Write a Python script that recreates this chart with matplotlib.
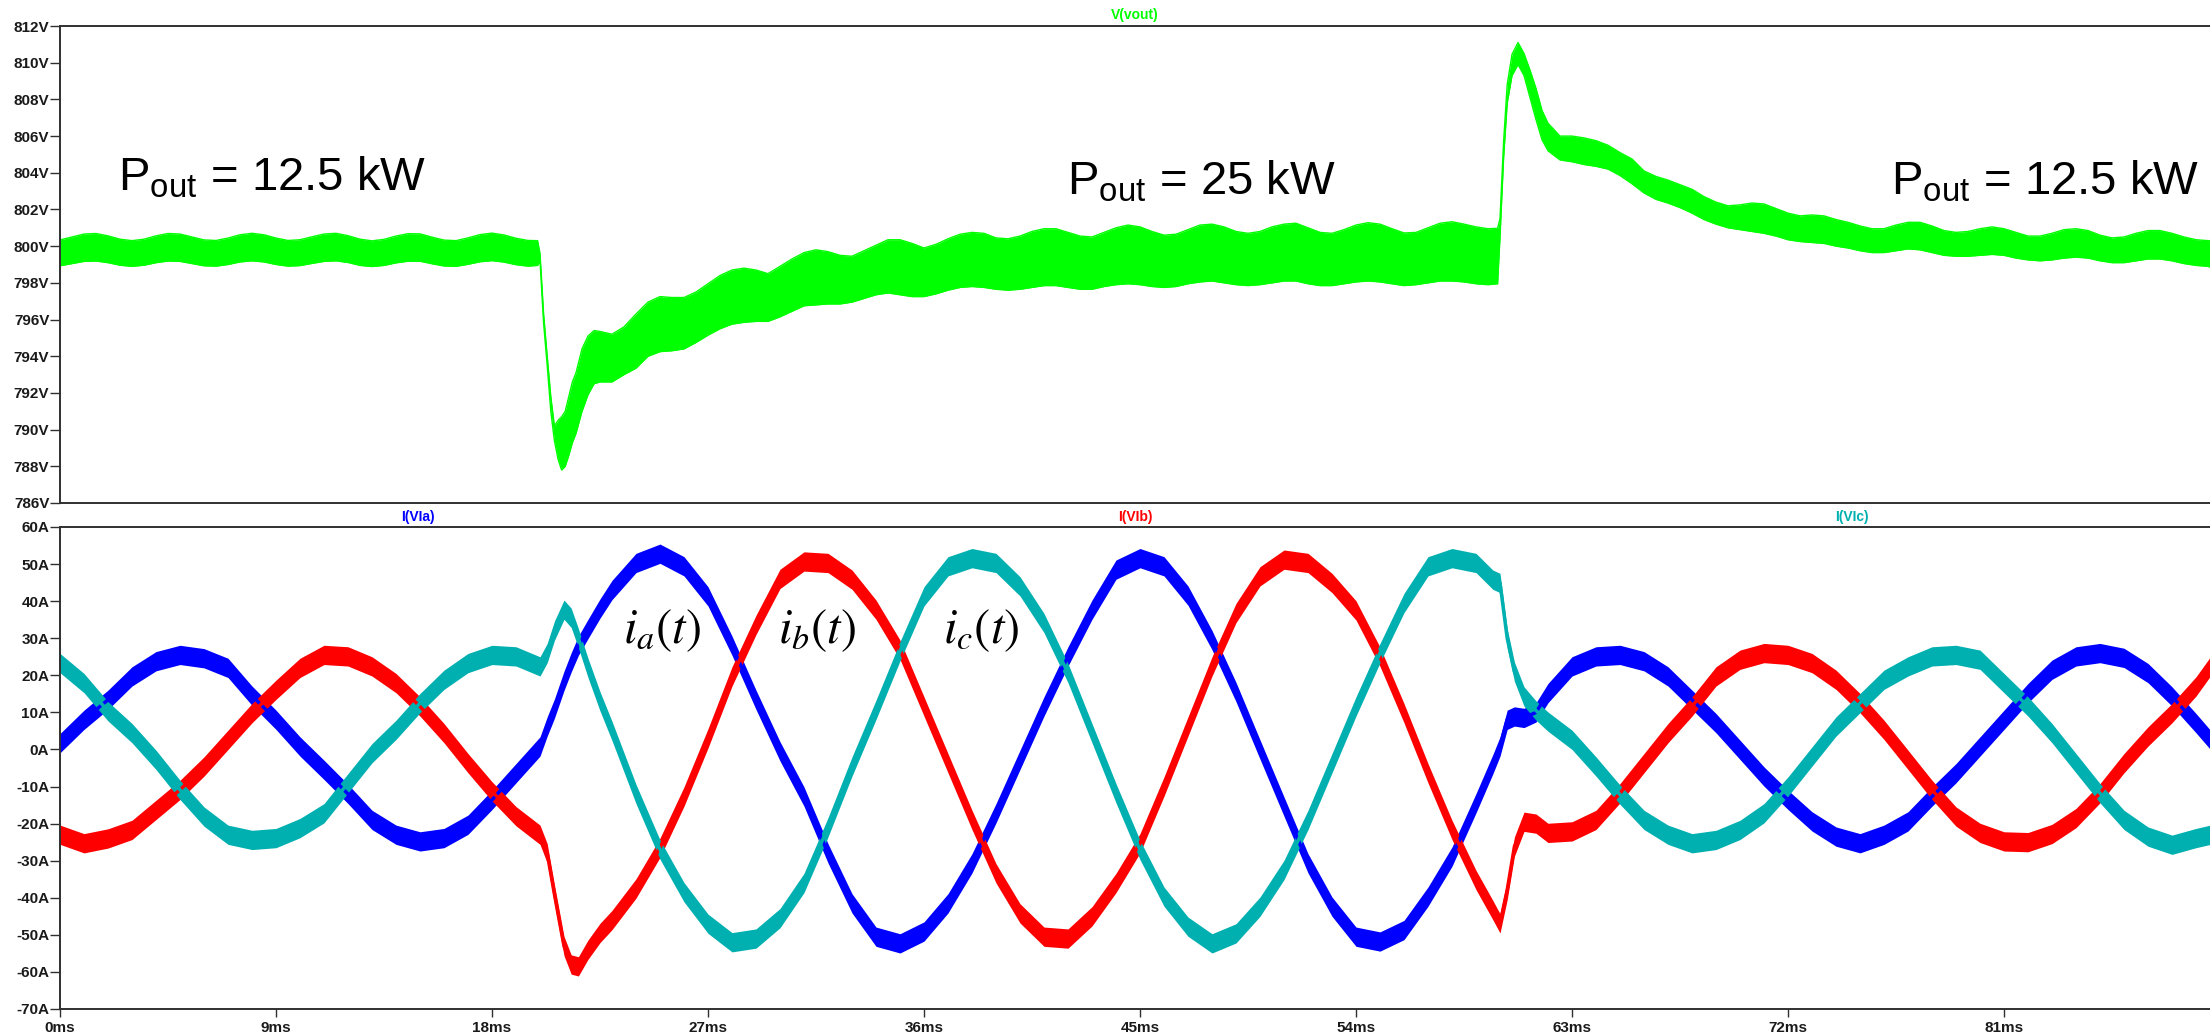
import numpy as np
import matplotlib
matplotlib.use("Agg")
import matplotlib.pyplot as plt

# 步驟 1: 資料
# 輸出電壓 V(vout) 的上下包絡 (V)，時間單位 ms
t_v = np.concatenate([
    np.arange(0, 20, 0.5), [19.9],
    [20.0, 20.15, 20.3, 20.45, 20.6, 20.75, 20.9, 21.05, 21.2, 21.35, 21.5, 21.75, 22.0, 22.25],
    np.arange(22.5, 60, 0.5), [59.9],
    [60.0, 60.15, 60.3, 60.5, 60.75, 61.0, 61.25, 61.5, 61.75, 62.0, 62.5],
    np.arange(63, 90, 0.5), [89.6],
])

v_upper = [
    800.34, 800.50, 800.66, 800.69, 800.56, 800.38, 800.30, 800.38, 800.56, 800.69,
    800.66, 800.50, 800.34, 800.31, 800.44, 800.62, 800.70, 800.62, 800.44, 800.31,
    800.35, 800.51, 800.66, 800.70, 800.57, 800.38, 800.29, 800.37, 800.55, 800.68,
    800.67, 800.49, 800.33, 800.30, 800.45, 800.63, 800.71, 800.61, 800.43, 800.31,
    800.30,
    799.6, 796.3, 794.0, 791.8, 790.2, 790.5, 790.7, 791.0, 791.8, 792.6, 793.1, 794.4, 795.1, 795.4,
    795.35, 795.2, 795.6, 796.3, 796.95, 797.25, 797.2, 797.2, 797.5, 797.95,
    798.4, 798.7, 798.8, 798.7, 798.5,
    798.9, 799.3, 799.65, 799.8, 799.7, 799.5, 799.45, 799.75, 800.05, 800.35,
    800.35, 800.15, 799.9, 800.1, 800.4, 800.65, 800.75, 800.7, 800.45, 800.4,
    800.55, 800.8, 800.95, 800.95, 800.75, 800.55, 800.5, 800.75, 801.0, 801.15,
    801.05, 800.8, 800.6, 800.65, 800.9, 801.15, 801.2, 801.05, 800.8, 800.7,
    800.8, 801.05, 801.2, 801.25, 801.0, 800.75, 800.7, 800.9, 801.15, 801.28,
    801.2, 800.95, 800.72, 800.75, 801.0, 801.25, 801.33, 801.2, 801.05, 800.95,
    800.97,
    801.5, 805.7, 808.8, 810.45, 811.1, 810.5, 809.6, 808.6, 807.4, 806.7, 806.0,
    806.0, 805.9, 805.75, 805.5, 805.1, 804.75, 804.1, 803.8, 803.6, 803.35,
    803.1, 802.7, 802.4, 802.2, 802.25, 802.35, 802.3, 802.05, 801.8, 801.65,
    801.7, 801.65, 801.45, 801.3, 801.1, 800.95, 800.95, 801.15, 801.3, 801.3,
    801.1, 800.85, 800.75, 800.8, 800.95, 801.05, 800.95, 800.75, 800.55, 800.55,
    800.7, 800.9, 800.95, 800.85, 800.6, 800.45, 800.5, 800.7, 800.85, 800.85,
    800.7, 800.5, 800.35, 800.3,
    800.3,
]

v_lower = [
    798.93, 799.05, 799.17, 799.19, 799.10, 798.96, 798.90, 798.96, 799.10, 799.19,
    799.17, 799.05, 798.93, 798.91, 799.00, 799.14, 799.20, 799.14, 799.00, 798.91,
    798.94, 799.06, 799.17, 799.20, 799.11, 798.95, 798.89, 798.95, 799.09, 799.18,
    799.18, 799.04, 798.92, 798.90, 799.01, 799.15, 799.21, 799.13, 798.99, 798.91,
    798.95,
    799.2, 795.8, 793.5, 791.0, 789.4, 788.4, 787.8, 788.0, 788.6, 789.3, 789.8, 791.0, 791.9, 792.5,
    792.6, 792.6, 793.0, 793.35, 794.0, 794.25, 794.3, 794.4, 794.75, 795.15,
    795.5, 795.75, 795.85, 795.9, 795.9,
    796.15, 796.45, 796.75, 796.8, 796.85, 796.85, 796.95, 797.15, 797.35, 797.45,
    797.35, 797.25, 797.25, 797.4, 797.6, 797.75, 797.8, 797.75, 797.65, 797.6,
    797.65, 797.75, 797.85, 797.85, 797.75, 797.65, 797.65, 797.8, 797.9, 797.95,
    797.9, 797.8, 797.75, 797.8, 797.95, 798.05, 798.1, 798.0, 797.9, 797.85,
    797.9, 798.0, 798.1, 798.1, 797.95, 797.85, 797.85, 797.95, 798.05, 798.1,
    798.05, 797.95, 797.85, 797.9, 798.0, 798.1, 798.1, 798.05, 797.95, 797.9,
    797.95,
    800.5, 804.8, 807.8, 809.3, 809.9, 809.3, 808.1, 806.9, 805.8, 805.2, 804.7,
    804.6, 804.45, 804.35, 804.2, 803.85, 803.4, 802.9, 802.55, 802.35, 802.1,
    801.8, 801.45, 801.2, 801.0, 800.9, 800.8, 800.7, 800.55, 800.35, 800.25,
    800.2, 800.15, 800.0, 799.9, 799.75, 799.65, 799.65, 799.75, 799.85, 799.8,
    799.65, 799.5, 799.45, 799.45, 799.5, 799.55, 799.5, 799.35, 799.25, 799.2,
    799.25, 799.35, 799.4, 799.35, 799.2, 799.1, 799.1, 799.2, 799.3, 799.3,
    799.2, 799.05, 798.95, 798.9,
    798.85,
]

# 三相電流 (A)
t_i = (list(range(0, 21)) + [20.3, 20.6, 21, 21.3, 21.6, 22, 22.5, 23]
       + list(range(24, 60)) + [59.7, 60, 60.3, 60.6, 61, 61.5, 62]
       + list(range(63, 90)) + [89.6])

i_a = [
    1.7, 8.0, 13.4, 19.7, 23.8, 25.5, 24.6, 22.0, 14.5, 8.0, 0.8,
    -5.5, -12.0, -19.0, -23.0, -24.8, -23.9, -20.3, -13.6, -6.4, 0.8,
    6.2, 11.0, 18.5, 23.5, 28.0, 32.5, 38.0, 43.0,
    50.3, 52.8, 49.4, 41.3, 28.0, 13.4,
    -0.5, -12.7, -28.0, -41.5, -50.5, -52.3, -49.1, -41.5, -30.7, -17.2,
    -2.8, 11.6, 25.1, 37.7, 48.5, 51.6, 49.4, 41.5, 29.5, 15.5,
    0.0, -15.4, -30.7, -42.4, -50.5, -51.8, -48.7, -39.7, -28.9, -14.5,
    -4.0, 0.8, 8.0, 8.9, 8.5, 10.0, 15.2,
    22.4, 25.1, 25.5, 23.8, 19.7, 13.4, 7.1, -0.1, -7.3, -13.6,
    -19.4, -23.5, -25.3, -23.0, -19.4, -12.7, -6.4, 0.8, 8.0, 15.2,
    21.5, 25.1, 26.0, 24.7, 20.6, 14.3, 7.1,
    2.6,
]

i_b = [
    -23.0, -25.3, -24.0, -21.7, -16.3, -10.9, -4.6, 2.6, 9.8, 16.1, 22.0,
    25.5, 25.1, 22.4, 17.9, 11.6, 4.4, -3.7, -11.3, -18.0, -23.0,
    -28.0, -39.0, -53.0, -58.0, -58.5, -54.0, -49.5, -46.0,
    -37.5, -26.5, -12.7, 3.0, 19.7, 33.6,
    46.0, 50.7, 50.3, 45.8, 37.7, 26.9, 11.6, -3.7, -19.0, -33.4,
    -44.2, -50.5, -51.0, -45.0, -36.0, -25.3, -10.0, 6.2, 22.4, 36.8,
    46.7, 51.2, 50.3, 44.9, 37.5, 25.0, 9.8, -6.4, -21.7, -35.2,
    -43.3, -46.9, -37.9, -26.2, -19.5, -20.0, -22.5,
    -22.1, -19.0, -11.8, -3.7, 4.4, 11.6, 19.7, 24.2, 26.0, 25.5,
    23.3, 18.8, 12.5, 5.3, -2.8, -10.9, -18.1, -22.5, -24.8, -25.0,
    -22.8, -18.5, -11.8, -3.7, 3.5, 9.8, 17.0,
    22.4,
]

i_c = [
    23.3, 17.9, 10.3, 4.4, -2.8, -10.9, -18.1, -23.0, -24.4, -23.9, -21.2,
    -17.2, -9.1, -1.0, 5.3, 12.5, 18.8, 23.3, 25.5, 25.1, 22.4,
    26.0, 32.0, 37.7, 35.5, 30.0, 22.0, 13.0, 5.0,
    -12.0, -27.0, -38.5, -47.0, -52.0, -51.0,
    -45.5, -36.0, -21.0, -4.6, 10.7, 26.5, 41.3, 49.4, 51.6, 50.3,
    44.0, 34.1, 20.6, 4.4, -11.8, -27.1, -39.7, -47.8, -52.3, -49.6,
    -42.4, -32.5, -19.0, -3.7, 11.6, 26.0, 39.5, 49.4, 51.6, 50.3,
    45.8, 44.9, 30.0, 21.0, 14.3, 10.5, 7.5,
    2.6, -4.6, -12.2, -19.0, -23.0, -25.3, -24.4, -21.7, -17.2, -10.0,
    -1.9, 6.2, 12.5, 18.8, 22.4, 25.1, 25.5, 24.2, 17.9, 11.6,
    4.4, -3.7, -11.8, -19.0, -23.5, -25.7, -23.9,
    -23.0,
]

v_ticks = list(range(786, 813, 2))
i_ticks = list(range(-70, 61, 10))
t_ticks = list(range(0, 90, 9))

# 步驟 2: 字型設定
plt.rcParams['font.family'] = ['Liberation Sans', 'DejaVu Sans']
plt.rcParams['mathtext.fontset'] = 'custom'
plt.rcParams['mathtext.rm'] = 'Liberation Sans'
plt.rcParams['mathtext.it'] = 'Liberation Sans:italic'
plt.rcParams['mathtext.bf'] = 'Liberation Sans:bold'

W, H = 2210, 1036
fig = plt.figure(figsize=(W / 100, H / 100), dpi=100)
ax_v = fig.add_axes([60 / W, 1 - 503 / H, 1 - 60 / W, (503 - 26) / H])
ax_i = fig.add_axes([60 / W, 1 - 1009 / H, 1 - 60 / W, (1009 - 527) / H])

green = '#00ff00'
colors = ['#0000ff', '#ff0000', '#00b0b0']
band = 2.6  # 漣波帶寬 (A)

# 步驟 3: 畫電壓
ax_v.fill_between(t_v, v_lower, v_upper, color=green, lw=0)
ax_v.plot(t_v, v_upper, color=green, lw=1)
ax_v.plot(t_v, v_lower, color=green, lw=1)

# 步驟 4: 畫電流
for vals, col in zip([i_a, i_b, i_c], colors):
    arr = np.array(vals)
    ax_i.fill_between(t_i, arr - band, arr + band, color=col, lw=0)
    ax_i.plot(t_i, arr, color=col, lw=2.5)

# 座標軸
xmax = (W - 60) / 24
for ax in (ax_v, ax_i):
    ax.set_xlim(0, xmax)
    ax.spines['right'].set_visible(False)
    for s in ('top', 'left', 'bottom'):
        ax.spines[s].set_linewidth(1.4)
        ax.spines[s].set_color('#303030')
    ax.tick_params(axis='y', direction='out', length=7.2, width=1.0, pad=0.5,
                   color='#303030', labelsize=11, labelcolor='#1a1a1a')

ax_v.set_ylim(786, 812)
ax_v.set_yticks(v_ticks)
ax_v.set_yticklabels([f'{v}V' for v in v_ticks], fontweight='bold')
ax_v.tick_params(axis='x', bottom=False, labelbottom=False)

ax_i.set_ylim(-70, 60)
ax_i.set_yticks(i_ticks)
ax_i.set_yticklabels([f'{v}A' for v in i_ticks], fontweight='bold')
ax_i.set_xticks(t_ticks)
ax_i.set_xticklabels([f'{t}ms' for t in t_ticks], fontweight='bold')
ax_i.tick_params(axis='x', direction='out', length=5.5, width=1.0, pad=3,
                 color='#303030', labelsize=11, labelcolor='#1a1a1a')

# 波形名稱
ax_v.annotate('V(vout)', xy=(0.5, 1), xycoords='axes fraction', xytext=(0, 8),
              textcoords='offset points', ha='center', va='center',
              color=green, fontsize=10, fontweight='bold')
for pos, name, col in zip([1 / 6, 0.5, 5 / 6], ['I(VIa)', 'I(VIb)', 'I(VIc)'], colors):
    ax_i.annotate(name, xy=(pos, 1), xycoords='axes fraction', xytext=(0, 7.5),
                  textcoords='offset points', ha='center', va='center',
                  color=col, fontsize=10, fontweight='bold')

# 標註
ax_v.text(2.4, 803.06, r'P$_{\mathrm{out}}$ = 12.5 kW', fontsize=34, va='baseline')
ax_v.text(41.96, 802.79, r'P$_{\mathrm{out}}$ = 25 kW', fontsize=34, va='baseline')
ax_v.text(76.3, 802.79, r'P$_{\mathrm{out}}$ = 12.5 kW', fontsize=34, va='baseline')

for x, lab in zip([23.46, 29.9, 36.8], [r'$i_a(t)$', r'$i_b(t)$', r'$i_c(t)$']):
    ax_i.text(x, 28.7, lab, fontsize=35, va='baseline', math_fontfamily='stix')

fig.savefig('out.png', dpi=100)
